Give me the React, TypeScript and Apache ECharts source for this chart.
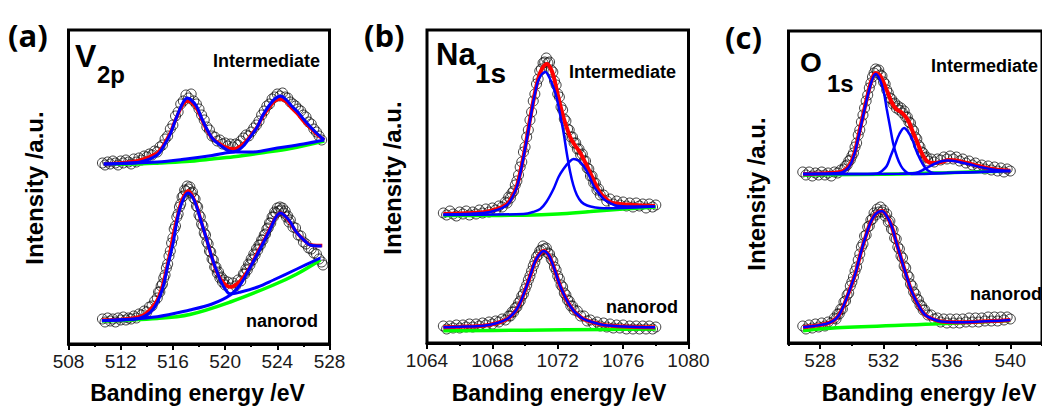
import React, { useEffect, useRef } from "react";
import * as echarts from "echarts";

// ---------- axis ticks ----------
const aTicks = [508, 512, 516, 520, 524, 528];
const aMinor = [510, 514, 518, 522, 526];
const bTicks = [1064, 1068, 1072, 1076, 1080];
const bMinor = [1066, 1070, 1074, 1078];
const cTicks = [528, 532, 536, 540];
const cMinor = [526, 530, 534, 538, 542];

// ---------- panel (a) V2p ----------
const aIntData = [[510.6,181],[510.8,179],[511.0,182],[511.2,180],[511.4,183],[511.6,181],[511.8,179],[512.0,183],[512.2,181],[512.4,184],[512.6,182],[512.8,180],[513.0,185],[513.2,182],[513.4,186],[513.6,184],[513.8,188],[514.0,187],[514.2,190],[514.4,189],[514.6,193],[514.8,192],[515.0,197],[515.2,199],[515.4,205],[515.6,208],[515.8,215],[516.0,219],[516.2,228],[516.4,232],[516.6,240],[516.8,243],[517.0,249],[517.2,246],[517.4,250],[517.6,243],[517.8,240],[518.0,235],[518.2,229],[518.4,224],[518.6,217],[518.8,214],[519.0,208],[519.2,207],[519.4,203],[519.6,204],[519.8,200],[520.0,201],[520.2,198],[520.4,200],[520.6,197],[520.8,200],[521.0,199],[521.2,203],[521.4,206],[521.6,209],[521.8,208],[522.0,212],[522.2,216],[522.4,219],[522.6,223],[522.8,229],[523.0,233],[523.2,238],[523.4,240],[523.6,245],[523.8,247],[524.0,250],[524.2,248],[524.4,251],[524.6,247],[524.8,246],[525.0,242],[525.2,240],[525.4,238],[525.6,235],[525.8,233],[526.0,229],[526.2,227],[526.4,222],[526.6,220],[526.8,215],[527.0,212],[527.2,208],[527.4,204]];
const aIntFit = [[510.7,180],[512,181],[513,182.5],[513.5,184],[514,186],[514.5,189],[514.8,191],[515.2,197],[515.5,204],[515.8,211],[516.1,221],[516.5,233],[516.8,240],[517.1,243],[517.4,242],[517.8,236],[518.2,225],[518.6,214],[519,206],[519.5,201],[520,197],[520.66,195],[521.2,198],[521.7,204],[522.1,211],[522.46,217],[522.9,228],[523.4,237],[523.8,243],[524.25,245],[524.7,242],[525.1,236],[525.5,231],[526,223],[526.55,216],[527,210],[527.6,204]];
const aIntPeak1 = [[510.7,180],[512,180.5],[513.5,182],[514.8,189],[515.3,198],[515.8,210],[516.2,224],[516.5,234],[516.8,242],[517.1,246],[517.4,244],[517.8,238],[518.2,226],[518.6,215],[519,206],[519.5,200],[520.3,193],[520.9,192],[522,192],[524,196],[526,200],[527.6,204]];
const aIntPeak2 = [[510.7,180],[514.8,182],[517,185],[519,188.5],[520,191],[520.9,193],[521.4,198],[521.7,203],[522.1,210],[522.46,217],[522.9,229],[523.4,239],[523.8,245],[524.25,248],[524.7,244],[525.1,238],[525.5,233],[526,225],[526.55,217],[527,211],[527.6,204]];
const aIntBg = [[510.7,180],[513,180],[515,181],[517,182.5],[519,185],[520.66,187.3],[523,191.5],[525,195.5],[527.6,203]];

const aNanoData = [[510.6,25],[510.8,22],[511.0,26],[511.2,23],[511.4,25],[511.6,22],[511.8,26],[512.0,24],[512.2,27],[512.4,24],[512.6,26],[512.8,25],[513.0,28],[513.2,26],[513.4,30],[513.6,29],[513.8,33],[514.0,32],[514.2,37],[514.4,38],[514.6,43],[514.8,46],[514.9,52],[515.0,52],[515.1,58],[515.2,60],[515.3,66],[515.4,69],[515.5,76],[515.6,80],[515.7,88],[515.8,93],[515.9,101],[516.0,106],[516.1,115],[516.2,118],[516.3,127],[516.4,130],[516.5,137],[516.6,140],[516.7,147],[516.8,148],[516.9,154],[517.0,153],[517.1,158],[517.2,155],[517.3,157],[517.4,151],[517.5,152],[517.6,146],[517.7,145],[517.8,138],[517.9,137],[518.0,129],[518.1,127],[518.2,120],[518.3,118],[518.4,111],[518.5,109],[518.6,102],[518.7,100],[518.8,93],[518.9,92],[519.0,85],[519.1,84],[519.2,77],[519.3,77],[519.4,71],[519.5,72],[519.6,66],[519.7,67],[519.8,62],[519.9,64],[520.0,59],[520.2,62],[520.4,56],[520.6,61],[520.8,58],[521.0,64],[521.2,63],[521.4,70],[521.5,70],[521.6,75],[521.7,74],[521.8,80],[521.9,79],[522.0,85],[522.1,84],[522.2,90],[522.3,89],[522.4,95],[522.5,94],[522.6,99],[522.7,99],[522.8,104],[522.9,104],[523.0,109],[523.1,110],[523.2,115],[523.3,116],[523.4,121],[523.5,121],[523.6,127],[523.7,127],[523.8,132],[523.9,131],[524.0,136],[524.1,133],[524.2,137],[524.3,134],[524.4,136],[524.5,131],[524.6,133],[524.7,127],[524.8,128],[524.9,122],[525.0,124],[525.2,117],[525.4,116],[525.6,109],[525.8,108],[526.0,102],[526.2,100],[526.4,96],[526.6,95],[526.8,91],[527.0,90],[527.2,85],[527.4,82],[527.5,79]];
const aNanoFit = [[510.56,24],[512,24.5],[513,26],[513.76,29],[514.3,35],[514.8,44],[515.2,58],[515.55,77],[515.8,93],[516.06,111],[516.4,130],[516.7,144],[517.16,153],[517.5,148],[517.85,137],[518.2,121],[518.6,104],[519,86],[519.4,71],[519.9,61],[520.4,57],[520.9,60],[521.4,67],[522,79],[522.46,91],[523,104],[523.5,117],[523.9,127],[524.25,131],[524.6,128],[525,121],[525.4,113],[525.8,107],[526.2,102],[526.55,99],[527,98.5],[527.45,98.5]];
const aNanoPeak1 = [[510.56,23.5],[512,24],[513.5,26],[514.5,35],[515.2,55],[515.6,78],[516,100],[516.3,122],[516.6,138],[517.15,151],[517.5,147],[517.8,138],[518.2,121],[518.6,104],[519,86],[519.3,75],[519.7,62],[520,55],[520.4,50],[521.2,52],[522.5,57],[523.7,64],[525.5,75],[527.3,86]];
const aNanoPeak2 = [[510.56,23.3],[514.8,27.3],[517.3,34],[519,40],[520.4,49],[521.2,60],[521.8,74],[522.4,88],[523,103],[523.5,116],[523.9,127],[524.25,131],[524.6,128],[525,122],[525.4,113],[525.8,107],[526.2,102],[526.5,99],[527.4,98]];
const aNanoBg = [[510.56,23],[514.8,25.5],[517.3,29.5],[520.4,42],[523.7,59],[525.5,70],[527.3,84]];

// ---------- panel (b) Na1s ----------
const bIntData = [[1065.0,130],[1065.2,128],[1065.4,132],[1065.6,129],[1065.8,127],[1066.0,131],[1066.2,129],[1066.4,132],[1066.6,128],[1066.8,131],[1067.0,129],[1067.2,133],[1067.4,130],[1067.6,134],[1067.8,131],[1068.0,135],[1068.2,133],[1068.4,137],[1068.6,136],[1068.8,141],[1068.9,140],[1069.0,146],[1069.1,145],[1069.2,150],[1069.3,152],[1069.4,158],[1069.5,162],[1069.6,168],[1069.7,176],[1069.8,181],[1069.9,191],[1070.0,196],[1070.1,206],[1070.2,213],[1070.3,223],[1070.4,231],[1070.5,242],[1070.6,249],[1070.7,259],[1070.8,264],[1070.9,272],[1071.0,274],[1071.1,280],[1071.2,281],[1071.3,285],[1071.4,280],[1071.5,281],[1071.6,273],[1071.7,271],[1071.8,262],[1071.9,258],[1072.0,249],[1072.1,246],[1072.2,236],[1072.3,233],[1072.4,224],[1072.5,222],[1072.6,214],[1072.7,213],[1072.8,206],[1072.9,206],[1073.0,200],[1073.1,200],[1073.2,194],[1073.3,194],[1073.4,188],[1073.5,189],[1073.6,182],[1073.7,182],[1073.8,175],[1073.9,174],[1074.0,167],[1074.1,167],[1074.2,160],[1074.3,160],[1074.4,153],[1074.5,154],[1074.6,148],[1074.8,148],[1075.0,142],[1075.2,144],[1075.4,139],[1075.6,142],[1075.8,138],[1076.0,141],[1076.2,137],[1076.4,140],[1076.6,136],[1076.8,140],[1077.0,137],[1077.2,139],[1077.4,135],[1077.6,139],[1077.8,136],[1078.0,138]];
const bIntFit = [[1065.0,129],[1066,129.5],[1067.46,130.7],[1068.3,134],[1068.9,139],[1069.2,146],[1069.5,157],[1069.8,178],[1070.1,204],[1070.35,228],[1070.6,250],[1070.8,264],[1071.03,274],[1071.34,279],[1071.55,275],[1071.74,267],[1071.95,252],[1072.15,238],[1072.36,225],[1072.56,215],[1072.76,206],[1073.0,199],[1073.38,190],[1073.7,180],[1073.99,170],[1074.3,159],[1074.6,150],[1074.9,145],[1075.2,141],[1075.8,139],[1076.64,138],[1077.96,137]];
const bIntPeak1 = [[1065,128.5],[1067.46,130],[1068.3,133],[1068.9,138],[1069.2,145],[1069.5,156],[1069.8,177],[1070.1,203],[1070.35,227],[1070.6,249],[1070.85,264],[1071.24,271],[1071.5,265],[1071.75,255],[1071.95,244],[1072.15,228],[1072.35,211],[1072.55,190],[1072.76,171],[1072.95,158],[1073.17,148],[1073.45,141],[1073.8,137.5],[1074.3,135.5],[1074.8,134.7],[1076,135],[1077.96,136.5]];
const bIntPeak2 = [[1065,128],[1069.9,129],[1070.5,131],[1070.93,134],[1071.3,141],[1071.74,154],[1072.05,166],[1072.35,174],[1072.7,181],[1072.97,184],[1073.3,182],[1073.58,177],[1073.9,168],[1074.2,157],[1074.5,150],[1074.8,144],[1075.2,140],[1075.6,137.3],[1076.5,136.5],[1077.96,136.5]];
const bIntBg = [[1065,127.5],[1068,127.6],[1070,127.8],[1072,129],[1074,131.5],[1076,134],[1078,136]];

const bNanoData = [[1065.0,17],[1065.2,14],[1065.4,17],[1065.6,15],[1065.8,18],[1066.0,15],[1066.2,18],[1066.4,16],[1066.6,19],[1066.8,16],[1067.0,19],[1067.2,17],[1067.4,20],[1067.6,18],[1067.8,21],[1068.0,19],[1068.2,22],[1068.4,21],[1068.6,24],[1068.8,23],[1069.0,27],[1069.1,27],[1069.2,31],[1069.3,31],[1069.4,35],[1069.5,36],[1069.6,40],[1069.7,42],[1069.8,47],[1069.9,49],[1070.0,54],[1070.1,58],[1070.2,63],[1070.3,67],[1070.4,72],[1070.5,77],[1070.6,81],[1070.7,86],[1070.8,88],[1070.9,92],[1071.0,93],[1071.1,97],[1071.2,94],[1071.3,95],[1071.4,90],[1071.5,89],[1071.6,84],[1071.7,82],[1071.8,76],[1071.9,73],[1072.0,67],[1072.1,64],[1072.2,58],[1072.3,56],[1072.4,50],[1072.5,48],[1072.6,43],[1072.7,42],[1072.8,37],[1072.9,37],[1073.0,33],[1073.2,32],[1073.4,27],[1073.6,27],[1073.8,22],[1074.0,23],[1074.2,19],[1074.4,21],[1074.6,17],[1074.8,20],[1075.0,16],[1075.2,19],[1075.4,15],[1075.6,18],[1075.8,15],[1076.0,18],[1076.2,14],[1076.4,17],[1076.6,14],[1076.8,17],[1077.0,14],[1077.2,17],[1077.4,14],[1077.6,17],[1077.8,14],[1078.0,16]];
const bNanoFit = [[1065.0,15.7],[1066,16.3],[1067.46,17.3],[1068.3,20],[1068.9,24],[1069.2,28],[1069.5,34],[1069.8,44],[1070.1,57],[1070.35,69],[1070.6,81],[1070.85,88],[1071.13,92],[1071.4,89],[1071.64,81],[1071.9,69],[1072.15,57],[1072.45,46],[1072.76,37],[1073.1,30],[1073.58,24],[1074.2,20.5],[1074.8,18],[1076,16.5],[1077.96,15.7]];
const bNanoBg = [[1065,12.3],[1070,12.8],[1075,13.5],[1078,14]];

// ---------- panel (c) O1s ----------
const cIntData = [[526.9,171],[527.1,168],[527.3,171],[527.5,167],[527.7,170],[527.9,168],[528.1,171],[528.3,168],[528.5,170],[528.7,167],[528.9,171],[529.1,170],[529.3,173],[529.5,174],[529.6,177],[529.7,178],[529.8,182],[529.9,183],[530.0,187],[530.1,190],[530.2,196],[530.3,200],[530.4,208],[530.5,213],[530.6,221],[530.7,228],[530.8,235],[530.9,242],[531.0,248],[531.1,255],[531.2,260],[531.3,266],[531.4,270],[531.5,274],[531.6,272],[531.7,273],[531.8,268],[531.9,267],[532.0,261],[532.1,259],[532.2,253],[532.3,250],[532.4,245],[532.5,244],[532.6,239],[532.7,240],[532.8,235],[532.9,237],[533.0,233],[533.1,235],[533.2,230],[533.3,232],[533.4,226],[533.5,226],[533.6,221],[533.7,220],[533.8,214],[533.9,212],[534.0,206],[534.1,204],[534.2,198],[534.3,196],[534.4,191],[534.5,190],[534.6,185],[534.7,186],[534.8,182],[535.0,184],[535.2,181],[535.4,184],[535.6,183],[535.8,186],[536.0,184],[536.2,187],[536.4,184],[536.6,186],[536.8,182],[537.0,184],[537.2,180],[537.4,182],[537.6,178],[537.8,180],[538.0,176],[538.2,178],[538.4,174],[538.6,177],[538.8,173],[539.0,176],[539.2,172],[539.4,175],[539.6,171],[539.8,174],[540.0,172]];
const cIntFit = [[526.92,169],[528,169.5],[529.36,171.3],[529.7,175],[529.96,181],[530.2,192],[530.47,211],[530.75,231],[530.98,247],[531.25,263],[531.49,270],[531.75,268],[531.99,261],[532.25,251],[532.5,241],[532.8,234],[533.1,231],[533.35,227],[533.6,221],[533.85,211],[534.12,201],[534.4,190],[534.73,182],[535.1,180],[535.64,181],[536.1,183],[536.6,182.5],[537.26,180],[538,177],[538.68,174.5],[539.3,173],[540,172.3]];
const cIntPeak1 = [[526.92,169],[528,169.2],[529.36,170.5],[529.7,174],[529.96,180],[530.2,191],[530.47,210],[530.75,230],[530.98,246],[531.25,262],[531.5,269],[531.75,264],[532.0,252],[532.2,234],[532.4,217],[532.6,200],[532.85,186],[533.1,177],[533.35,172],[533.6,169.5],[534,169],[536,170],[538,171],[540,172]];
const cIntPeak2 = [[526.92,169],[531,169],[531.6,169.5],[531.9,172],[532.2,177],[532.45,187],[532.7,197],[533.0,209],[533.3,215],[533.55,211],[533.8,204],[534.05,193],[534.3,184],[534.55,177],[534.8,172.5],[535.2,170],[537,170.5],[540,172]];
const cIntPeak3 = [[526.92,169],[533,169.3],[534,170],[534.6,174],[535.2,179],[535.6,181.5],[536.05,182.5],[536.6,181.5],[537.2,179.5],[537.7,177.5],[538.4,175],[539.1,173],[540,172]];
const cIntBg = [[526.92,168],[532,168.8],[534,169.5],[536,170.3],[538,171.2],[540,172]];

const cNanoData = [[526.9,17],[527.1,14],[527.3,18],[527.5,15],[527.7,19],[527.9,16],[528.1,20],[528.3,17],[528.5,21],[528.7,20],[528.9,25],[529.0,24],[529.1,29],[529.2,29],[529.3,34],[529.4,34],[529.5,41],[529.6,42],[529.7,48],[529.8,50],[529.9,57],[530.0,61],[530.1,66],[530.2,72],[530.3,76],[530.4,83],[530.5,89],[530.6,96],[530.7,99],[530.8,107],[530.9,108],[531.0,116],[531.1,117],[531.2,123],[531.3,124],[531.4,130],[531.5,128],[531.6,134],[531.7,131],[531.8,136],[531.9,131],[532.0,133],[532.1,127],[532.2,129],[532.3,121],[532.4,122],[532.5,114],[532.6,113],[532.7,105],[532.8,104],[532.9,96],[533.0,94],[533.1,87],[533.2,85],[533.3,77],[533.4,75],[533.5,68],[533.6,66],[533.7,59],[533.8,57],[533.9,51],[534.0,49],[534.1,44],[534.2,43],[534.3,38],[534.4,37],[534.5,33],[534.6,33],[534.8,28],[535.0,28],[535.2,24],[535.4,25],[535.6,21],[535.8,24],[536.0,20],[536.2,24],[536.4,20],[536.6,24],[536.8,20],[537.0,24],[537.2,21],[537.4,25],[537.6,21],[537.8,25],[538.0,21],[538.2,25],[538.4,22],[538.6,26],[538.8,22],[539.0,26],[539.2,22],[539.4,26],[539.6,23],[539.8,26],[540.0,24]];
const cNanoFit = [[526.92,15.7],[527.6,17],[528.34,19],[528.8,22],[529.16,27.3],[529.5,38],[529.96,57.3],[530.27,72],[530.57,90.7],[530.9,108],[531.18,120.7],[531.5,129],[531.89,132],[532.2,127],[532.5,117.3],[532.8,101],[533.1,85],[533.45,67],[533.8,50.7],[534.3,35],[534.63,28],[535.1,24],[535.64,21.5],[536.5,20.7],[537.67,21],[539,22],[540,23]];
const cNanoBg = [[526.92,12.3],[529.05,15.2],[535.1,19],[540,22.5]];

const FONT = "Liberation Sans, Arial, sans-serif";
const RED = "#ff0000";
const BLUE = "#0000ff";
const GREEN = "#00ff00";

function scatter(idx: number, data: number[][]) {
  return {
    type: "scatter", xAxisIndex: idx * 2, yAxisIndex: idx, data,
    symbol: "circle", symbolSize: 10, silent: true,
    itemStyle: { color: "rgba(0,0,0,0)", borderColor: "#111", borderWidth: 1 },
  };
}
function line(idx: number, data: number[][], color: string, width: number) {
  return {
    type: "line", xAxisIndex: idx * 2, yAxisIndex: idx, data, smooth: 0.35,
    showSymbol: false, silent: true, lineStyle: { color, width },
  };
}

const grids = [
  { left: 68.5, top: 30, width: 261, height: 314 },
  { left: 427, top: 30, width: 261.5, height: 313 },
  { left: 788.5, top: 31, width: 263, height: 312 },
];
const ranges = [[508, 528], [1064, 1080], [526, 542]];
const majors = [aTicks, bTicks, cTicks];
const minors = [aMinor, bMinor, cMinor];

export default function App() {
  const ref = useRef<HTMLDivElement>(null);
  useEffect(() => {
    if (!ref.current) return;
    const chart = echarts.init(ref.current, null, { renderer: "svg" });
    const xAxis: any[] = [];
    const yAxis: any[] = [];
    grids.forEach((g, i) => {
      xAxis.push({
        type: "value", gridIndex: i, position: "bottom", min: ranges[i][0], max: ranges[i][1],
        axisLine: { show: true, onZero: false, lineStyle: { color: "#000", width: 3 } },
        axisTick: { show: true, customValues: majors[i], length: 6, lineStyle: { color: "#000", width: 2 } },
        axisLabel: { show: true, customValues: majors[i], margin: 8, fontSize: 19, color: "#1a1a1a", fontFamily: FONT, formatter: (v: number) => String(v) },
        splitLine: { show: false },
      });
      xAxis.push({
        type: "value", gridIndex: i, position: "bottom", min: ranges[i][0], max: ranges[i][1],
        axisLine: { show: false, onZero: false },
        axisTick: { show: true, customValues: minors[i], length: 3, lineStyle: { color: "#000", width: 2 } },
        axisLabel: { show: false },
        splitLine: { show: false },
      });
      yAxis.push({
        type: "value", gridIndex: i, min: 0, max: g.height,
        axisLine: { show: false }, axisTick: { show: false }, axisLabel: { show: false }, splitLine: { show: false },
      });
    });

    const series: any[] = [
      scatter(0, aIntData), scatter(0, aNanoData),
      line(0, aIntBg, GREEN, 3.5), line(0, aNanoBg, GREEN, 3.5),
      line(0, aIntFit, RED, 3.5), line(0, aNanoFit, RED, 3.5),
      line(0, aIntPeak1, BLUE, 3), line(0, aIntPeak2, BLUE, 3),
      line(0, aNanoPeak1, BLUE, 3), line(0, aNanoPeak2, BLUE, 3),

      scatter(1, bIntData), scatter(1, bNanoData),
      line(1, bIntBg, GREEN, 3.5), line(1, bNanoBg, GREEN, 3.5),
      line(1, bIntFit, RED, 4), line(1, bNanoFit, RED, 4),
      line(1, bIntPeak1, BLUE, 2.5), line(1, bIntPeak2, BLUE, 2.5),
      line(1, bNanoFit, BLUE, 2.5),

      scatter(2, cIntData), scatter(2, cNanoData),
      line(2, cIntBg, GREEN, 3.5), line(2, cNanoBg, GREEN, 3.5),
      line(2, cIntFit, RED, 4), line(2, cNanoFit, RED, 4),
      line(2, cIntPeak1, BLUE, 2.5), line(2, cIntPeak2, BLUE, 2.5), line(2, cIntPeak3, BLUE, 2.5),
      line(2, cNanoFit, BLUE, 2.5),
    ];

    const txt = (text: string, x: number, y: number, font: string, align = "left", rotation = 0) => ({
      type: "text", x, y, rotation, silent: true,
      style: { text, font, fill: "#000", align, verticalAlign: "middle" },
    });
    const B18 = `bold 18px ${FONT}`;
    const B23 = `bold 23px ${FONT}`;
    const B24 = `bold 24px ${FONT}`;
    const PAN = `bold 31px Open Sans, ${FONT}`;

    const graphic = [
      txt("(a)", 8, 35, PAN), txt("(b)", 364, 35, PAN), txt("(c)", 725, 37, PAN),
      txt("V", 75, 55.5, `bold 32px ${FONT}`), txt("2p", 97, 74, `bold 24px ${FONT}`),
      txt("Na", 436, 54, `bold 31px ${FONT}`), txt("1s", 475, 73, `bold 28px ${FONT}`),
      txt("O", 800, 62.5, `bold 28px ${FONT}`), txt("1s", 827, 83.5, `bold 24px ${FONT}`),
      txt("Intermediate", 213, 60.5, B18), txt("nanorod", 246, 321, B18),
      txt("Intermediate", 569, 71.5, B18), txt("nanorod", 606, 306.5, B18),
      txt("Intermediate", 931, 65.5, B18), txt("nanorod", 970, 293.5, B18),
      txt("Banding energy /eV", 197.5, 392.5, B23, "center"),
      txt("Banding energy /eV", 559, 392.5, B23, "center"),
      txt("Banding energy /eV", 929, 392.5, B23, "center"),
      txt("Intensity /a.u.", 34, 188, B24, "center", Math.PI / 2),
      txt("Intensity /a.u.", 392, 178, B24, "center", Math.PI / 2),
      txt("Intensity /a.u.", 756, 194, B24, "center", Math.PI / 2),
    ];

    chart.setOption({
      animation: false,
      backgroundColor: "#ffffff",
      grid: grids.map((g) => ({ ...g, show: true, borderColor: "#000", borderWidth: 3, backgroundColor: "transparent", containLabel: false })),
      xAxis, yAxis, series, graphic,
    });
    return () => chart.dispose();
  }, []);
  return <div ref={ref} style={{ position: "absolute", left: 0, top: 0, width: 1042, height: 407, overflow: "hidden" }} />;
}
